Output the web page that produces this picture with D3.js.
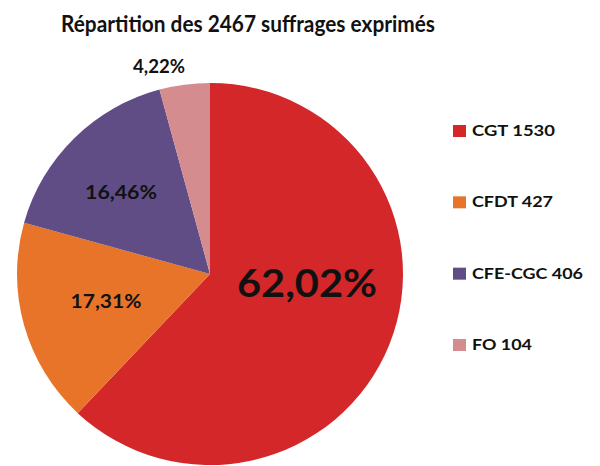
<!DOCTYPE html>
<html><head><meta charset="utf-8">
<script src="https://cdn.jsdelivr.net/npm/d3@7"></script>
<style>body{margin:0;background:#fff}svg{display:block}text{font-family:Lato,"Open Sans",sans-serif;font-weight:bold;fill:#111}</style>
</head><body>
<script>
const categories = ["CGT", "CFDT", "CFE-CGC", "FO"];
const votes = [1530, 427, 406, 104];
const percentLabels = ["62,02%", "17,31%", "16,46%", "4,22%"];
const colors = ["#D3272A", "#E8742A", "#604D86", "#D58C8E"];
const title = "Répartition des 2467 suffrages exprimés";

const W = 600, H = 466;
const svg = d3.select("body").append("svg").attr("width", W).attr("height", H);

svg.append("text").attr("x", 248).attr("y", 32).attr("text-anchor", "middle")
  .attr("font-size", 22).attr("textLength", 374).attr("lengthAdjust", "spacingAndGlyphs")
  .text(title);

const cx = 210, cy = 274, r = 193;
const pie = d3.pie().sort(null).value(d => d)(votes);
const arc = d3.arc().innerRadius(0).outerRadius(r);
const g = svg.append("g").attr("transform", `translate(${cx},${cy}) scale(1.0,0.99)`);
g.selectAll("path").data(pie).join("path").attr("d", arc).attr("fill", (d, i) => colors[i]);

const labelPos = [
  {x: 307, y: 297, size: 38, w: 140},
  {x: 106, y: 308, size: 18, w: 71},
  {x: 121, y: 199, size: 18, w: 72},
  {x: 159, y: 73, size: 18, w: 52}
];
svg.selectAll("text.pl").data(percentLabels).join("text").attr("class", "pl")
  .attr("x", (d, i) => labelPos[i].x).attr("y", (d, i) => labelPos[i].y)
  .attr("text-anchor", "middle").attr("font-size", (d, i) => labelPos[i].size)
  .attr("textLength", (d, i) => labelPos[i].w).attr("lengthAdjust", "spacingAndGlyphs")
  .text(d => d);

const legendWidths = [83, 81, 111, 60];
const legendY = d3.scalePoint().domain(categories).range([136, 350]);
const lg = svg.append("g");
categories.forEach((c, i) => {
  const y = legendY(c);
  lg.append("rect").attr("x", 453).attr("y", y - 11).attr("width", 13).attr("height", 12).attr("fill", colors[i]);
  lg.append("text").attr("x", 472).attr("y", y).attr("font-size", 16)
    .attr("textLength", legendWidths[i]).attr("lengthAdjust", "spacingAndGlyphs")
    .text(c + " " + votes[i]);
});
</script>
</body></html>
